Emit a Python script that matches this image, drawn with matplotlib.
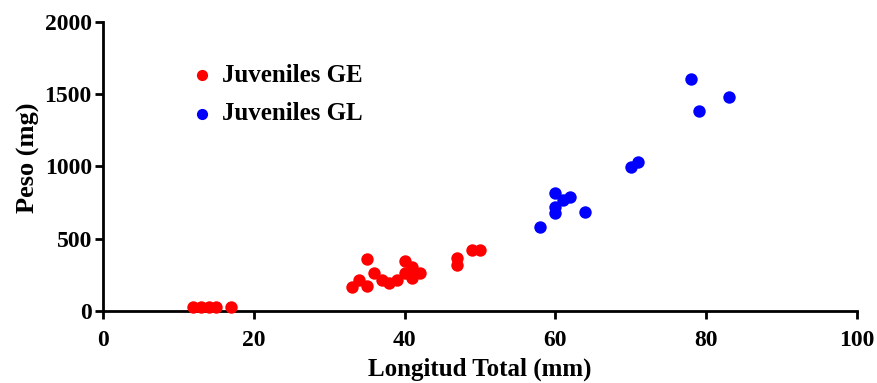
import matplotlib.pyplot as plt

plt.rcParams['font.family'] = ['Liberation Serif', 'DejaVu Serif']
plt.rcParams['font.weight'] = 'bold'

# Juveniles GE (red)
ge_x = [12, 13, 14, 15, 17, 33, 34, 35, 35, 36, 37, 38, 39, 40, 40, 41, 41, 42, 47, 47, 49, 50]
ge_y = [25, 25, 25, 25, 25, 166, 215, 173, 360, 263, 215, 194, 215, 346, 263, 304, 228, 263, 367, 318, 422, 422]

# Juveniles GL (blue)
gl_x = [58, 60, 60, 60, 61, 62, 64, 70, 71, 78, 79, 83]
gl_y = [581, 816, 720, 678, 768, 789, 685, 997, 1031, 1605, 1384, 1481]

fig = plt.figure(figsize=(8.77, 3.83), dpi=100)
ax = fig.add_axes([0.1174, 0.188, 0.8596, 0.7546])

ax.scatter(ge_x, ge_y, s=80, color='#ff0000', label='Juveniles GE', clip_on=False, zorder=3, linewidths=0)
ax.scatter(gl_x, gl_y, s=80, color='#0000ff', label='Juveniles GL', clip_on=False, zorder=3, linewidths=0)

ax.set_xlim(0, 100)
ax.set_ylim(0, 2000)
ax.set_xticks([0, 20, 40, 60, 80, 100])
ax.set_yticks([0, 500, 1000, 1500, 2000])
ax.spines['top'].set_visible(False)
ax.spines['right'].set_visible(False)
for s in ['left', 'bottom']:
    ax.spines[s].set_linewidth(2)
ax.tick_params(width=2, length=6, labelsize=17)
ax.tick_params(axis='x', pad=7.5)
ax.tick_params(axis='y', pad=2)
for lab in ax.get_xticklabels() + ax.get_yticklabels():
    lab.set_fontweight('bold')

ax.set_xlabel('Longitud Total (mm)', fontsize=18, fontweight='bold', labelpad=5)
ax.set_ylabel('Peso (mg)', fontsize=19, fontweight='bold')
ax.yaxis.set_label_coords(-0.083, 0.53)

ax.legend(loc='upper left', bbox_to_anchor=(0.1154, 0.855), frameon=False,
          prop={'size': 18, 'weight': 'bold'}, handlelength=1.0, handletextpad=0.3,
          labelspacing=0.62, borderpad=0, borderaxespad=0,
          scatterpoints=1, markerscale=0.9)

fig.savefig('out.png', dpi=100)
